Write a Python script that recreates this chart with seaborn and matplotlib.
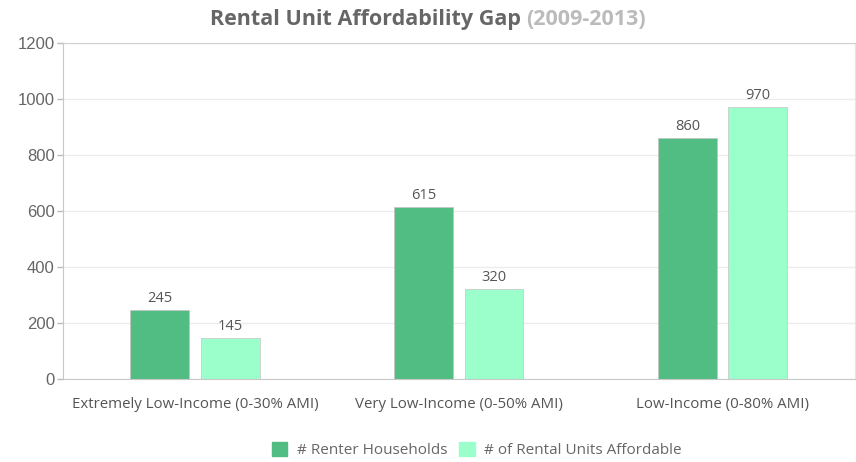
import pandas as pd
import matplotlib.pyplot as plt
import seaborn as sns

# datos del grafico
categories = ["Extremely Low-Income (0-30% AMI)", "Very Low-Income (0-50% AMI)", "Low-Income (0-80% AMI)"]
series_names = ["# Renter Households", "# of Rental Units Affordable"]
renter_households = [245, 615, 860]
units_affordable = [145, 320, 970]
y_ticks = [0, 200, 400, 600, 800, 1000, 1200]
colors = ["#52bd83", "#9affcb"]

df = pd.DataFrame({
    "category": categories * 2,
    "series": [series_names[0]] * 3 + [series_names[1]] * 3,
    "value": renter_households + units_affordable,
})

sns.set_style("white")
plt.rcParams["font.family"] = ["Open Sans", "DejaVu Sans"]

fig = plt.figure(figsize=(8.56, 4.62), dpi=100)
ax = fig.add_axes([0.0736, 0.1797, 0.925, 0.7272])

sns.barplot(data=df, x="category", y="value", hue="series", palette=colors,
            saturation=1, width=0.532, gap=0.16, ax=ax, legend=False,
            edgecolor="#c4c4c4", linewidth=0.5)

for cont in ax.containers:
    ax.bar_label(cont, padding=3, fontsize=10.5, color="#555555")

ax.set_ylim(0, 1200)
ax.set_xlim(-0.5, 2.5)
ax.set_yticks(y_ticks)
ax.set_yticklabels([str(t) for t in y_ticks], fontsize=12, color="#666666",
                   family=["Liberation Sans Narrow", "Liberation Sans", "DejaVu Sans"])
ax.yaxis.grid(True, color="#ececec", linewidth=1)
ax.set_axisbelow(True)
ax.set_xlabel("")
ax.set_ylabel("")

ax.set_xticks(range(3))
ax.set_xticklabels(categories, fontsize=10.8, color="#555555")
ax.set_xticks([-0.5, 0.5, 1.5, 2.5], minor=True)
ax.tick_params(axis="x", which="major", length=0, pad=13)
ax.tick_params(axis="x", which="minor", length=5, color="#bbbbbb", width=1)
ax.tick_params(axis="y", length=4, color="#bbbbbb", width=1, left=True, pad=2)

for side in ["left", "bottom"]:
    ax.spines[side].set_color("#c8c8c8")
ax.spines["right"].set_color("#e4e4e4")
ax.spines["top"].set_color("#cfcfcf")

# titulo en dos colores
t1 = fig.text(0, 0.957, "Rental Unit Affordability Gap ", fontsize=15.5, fontweight="bold",
              color="#666666", va="center", ha="left")
t2 = fig.text(0, 0.957, "(2009-2013)", fontsize=15.5, fontweight="bold",
              color="#bbbbbb", va="center", ha="left")
fig.canvas.draw()
r = fig.canvas.get_renderer()
w1 = t1.get_window_extent(r).width
w2 = t2.get_window_extent(r).width
W = fig.bbox.width
start = (W - w1 - w2) / 2 + 0
t1.set_x(start / W)
t2.set_x((start + w1) / W)

handles = [plt.Rectangle((0, 0), 1, 1, color=c) for c in colors]
fig.legend(handles, series_names, loc="center", bbox_to_anchor=(0.557, 0.026), ncol=2,
           frameon=False, fontsize=11, labelcolor="#666666", handlelength=1.0,
           handleheight=1.0, handletextpad=0.6, columnspacing=0.8)

plt.savefig("out.png", dpi=100)
